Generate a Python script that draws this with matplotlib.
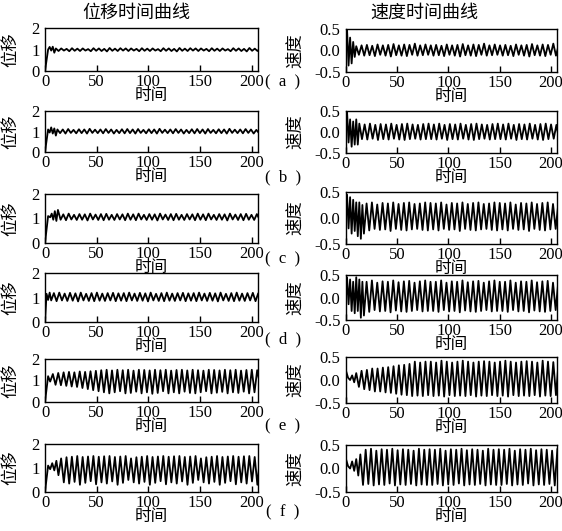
import numpy as np
import matplotlib
matplotlib.use("Agg")
import matplotlib.pyplot as plt
from matplotlib.ticker import FormatStrFormatter

plt.rcParams['font.family'] = ['Liberation Serif', 'Noto Sans CJK SC']
plt.rcParams['axes.unicode_minus'] = True

# ---- data ----
PERIOD = 5.2          # steady oscillation period (time units)
T_END = 206

panel_tags = ['a', 'b', 'c', 'd', 'e', 'f']

# displacement: transient vertices, then steady peak / trough values
disp_trans_t = [
    [0, 3, 4.5, 6, 7.5, 9, 10.5],
    [0, 3, 4.5, 6, 7.5, 9, 10.5, 12],
    [0, 3, 5, 6.5, 8, 9.5, 11, 12.5],
    [0, 1.5, 3, 4.5, 6],
    [0, 3, 5],
    [0, 3, 5, 7, 9, 11, 13],
]
disp_trans_y = [
    [0, 1.0, 1.12, 0.95, 1.13, 0.85, 1.05],
    [0, 1.1, 0.95, 1.2, 0.9, 1.15, 0.8, 1.1],
    [0, 1.1, 1.05, 1.2, 0.95, 1.3, 0.9, 1.35],
    [0, 1.15, 0.9, 1.2, 0.88],
    [0, 1.2, 0.95],
    [0, 1.1, 0.95, 1.2, 0.9, 1.3, 0.7],
]
disp_peaks = [
    [1.05, 1.03, 1.06, 1.04, 1.05, 1.02, 1.06, 1.05, 1.03, 1.07, 1.04, 1.06, 1.05],
    [1.1, 1.12, 1.08, 1.11, 1.1, 1.13, 1.09, 1.1, 1.12, 1.1, 1.08, 1.11, 1.12],
    [1.17, 1.2, 1.15, 1.18, 1.17, 1.2, 1.16, 1.18, 1.19, 1.15, 1.18, 1.17, 1.2],
    [1.18, 1.2, 1.16, 1.19, 1.17, 1.2, 1.15, 1.18, 1.2, 1.16, 1.18, 1.19, 1.17],
    [1.3, 1.35, 1.38, 1.4, 1.38, 1.42, 1.4, 1.43, 1.45, 1.48, 1.5, 1.47, 1.5,
     1.48, 1.5, 1.46, 1.5, 1.49, 1.47, 1.5, 1.48, 1.5, 1.46, 1.49, 1.5, 1.47,
     1.5, 1.48, 1.46, 1.5, 1.49, 1.47, 1.5, 1.48, 1.5, 1.46, 1.49, 1.5, 1.48],
    [1.4, 1.45, 1.47, 1.5, 1.46, 1.48, 1.5, 1.47, 1.49, 1.5, 1.46, 1.48, 1.5],
]
disp_troughs = [
    [0.93, 0.95, 0.92, 0.94, 0.93, 0.95, 0.92, 0.94, 0.93, 0.91, 0.94, 0.93, 0.95],
    [0.92, 0.9, 0.93, 0.91, 0.92, 0.9, 0.93, 0.92, 0.91, 0.93, 0.9, 0.92, 0.91],
    [0.95, 0.93, 0.96, 0.94, 0.95, 0.92, 0.96, 0.94, 0.93, 0.95, 0.94, 0.96, 0.93],
    [0.87, 0.85, 0.88, 0.86, 0.87, 0.84, 0.88, 0.86, 0.85, 0.87, 0.86, 0.88, 0.85],
    [0.85, 0.8, 0.78, 0.75, 0.72, 0.7, 0.65, 0.6, 0.55, 0.5, 0.45, 0.4, 0.45,
     0.5, 0.4, 0.42, 0.48, 0.4, 0.45, 0.38, 0.42, 0.5, 0.4, 0.45, 0.4, 0.48,
     0.42, 0.4, 0.45, 0.5, 0.4, 0.43, 0.47, 0.4, 0.45, 0.42, 0.48, 0.4, 0.45],
    [0.5, 0.4, 0.35, 0.42, 0.3, 0.38, 0.45, 0.32, 0.4, 0.35, 0.44, 0.3, 0.38],
]

# velocity
vel_trans_t = [
    [0, 1, 2.5, 4, 5.5, 7, 8.5, 10],
    [0, 1, 2.5, 4, 5.5, 7, 8.5, 10, 11.5, 13],
    [0, 1, 2.5, 4, 5.5, 7, 8.5, 10, 11.5, 13, 14.5, 16, 17.5],
    [0, 1, 2.5, 4, 5.5, 7, 8.5, 10, 11.5, 13, 14.5, 16, 17.5],
    [0, 2, 4, 6, 8, 10],
    [0, 2, 4, 6, 8, 10, 12, 14],
]
vel_trans_y = [
    [0, 0.5, -0.35, 0.3, -0.3, 0.2, -0.15, 0.1],
    [0, 0.5, -0.25, 0.3, -0.35, 0.25, -0.3, 0.3, -0.3, 0.2],
    [0, 0.45, -0.2, 0.4, -0.3, 0.35, -0.25, 0.3, -0.35, 0.3, -0.4, 0.25, -0.3],
    [0, 0.45, -0.15, 0.4, -0.3, 0.35, -0.35, 0.45, -0.3, 0.4, -0.45, 0.35, -0.4],
    [0.2, 0.05, 0.0, 0.1, -0.05, 0.15],
    [0.2, 0.05, 0.0, 0.15, -0.05, 0.2, -0.15, 0.3],
]
vel_peaks = [
    [0.12, 0.13, 0.11, 0.14, 0.12, 0.13, 0.15, 0.12, 0.14, 0.13, 0.16, 0.12, 0.14],
    [0.18, 0.2, 0.17, 0.19, 0.18, 0.2, 0.17, 0.19, 0.2, 0.18, 0.17, 0.19, 0.2],
    [0.28, 0.3, 0.26, 0.29, 0.28, 0.3, 0.27, 0.29, 0.3, 0.27, 0.28, 0.3, 0.29],
    [0.35, 0.38, 0.33, 0.36, 0.35, 0.38, 0.34, 0.36, 0.37, 0.33, 0.36, 0.38, 0.35],
    [0.2, 0.22, 0.25, 0.25, 0.27, 0.28, 0.3, 0.32, 0.33, 0.35, 0.4, 0.38, 0.4,
     0.4, 0.38, 0.42, 0.4, 0.38, 0.4, 0.42, 0.4, 0.38, 0.4, 0.41, 0.4, 0.38,
     0.4, 0.42, 0.4, 0.38, 0.4, 0.41, 0.4, 0.38, 0.42, 0.4, 0.39, 0.41, 0.4],
    [0.4, 0.42, 0.38, 0.41, 0.4, 0.42, 0.39, 0.41, 0.4, 0.38, 0.42, 0.4, 0.41],
]
vel_troughs = [
    [-0.1, -0.12, -0.11, -0.13, -0.1, -0.12, -0.14, -0.11, -0.12, -0.13, -0.1, -0.12, -0.11],
    [-0.17, -0.18, -0.16, -0.19, -0.17, -0.18, -0.16, -0.18, -0.19, -0.17, -0.16, -0.18, -0.17],
    [-0.22, -0.24, -0.21, -0.23, -0.22, -0.25, -0.21, -0.23, -0.24, -0.22, -0.21, -0.23, -0.24],
    [-0.3, -0.32, -0.28, -0.31, -0.3, -0.33, -0.29, -0.31, -0.32, -0.3, -0.28, -0.31, -0.3],
    [-0.15, -0.2, -0.22, -0.25, -0.25, -0.27, -0.28, -0.3, -0.32, -0.33, -0.35, -0.34, -0.35,
     -0.33, -0.35, -0.34, -0.36, -0.33, -0.35, -0.34, -0.35, -0.33, -0.36, -0.34, -0.35, -0.33,
     -0.35, -0.34, -0.36, -0.33, -0.35, -0.34, -0.35, -0.33, -0.36, -0.34, -0.35, -0.33, -0.35],
    [-0.35, -0.33, -0.36, -0.34, -0.35, -0.32, -0.36, -0.34, -0.35, -0.33, -0.36, -0.34, -0.35],
]

# ---- layout (pixel boxes) ----
W, H = 562, 531
left_x = (45, 258)
right_x = (346, 557)
left_rows = [(28, 71), (111, 152), (194, 243), (273, 322), (359, 402), (444, 492)]
right_rows = [(29, 72), (111, 153), (192, 244), (275, 320), (357, 403), (445, 492)]
tag_y = [82, 177, 259, 339, 426, 512]


def build_zig(tt, ty, peaks, troughs):
    # continue the transient with alternating trough/peak vertices
    t = list(tt)
    y = list(ty)
    going_down = ty[-1] > ty[-2]
    tc = tt[-1]
    k = 0
    while tc <= T_END + PERIOD:
        tc += PERIOD / 2
        t.append(tc)
        if going_down:
            y.append(troughs[k % len(troughs)])
        else:
            y.append(peaks[k % len(peaks)])
            k += 1
        going_down = not going_down
    return np.array(t), np.array(y)


def add_ax(xs, ys):
    return fig.add_axes([xs[0] / W, 1 - ys[1] / H, (xs[1] - xs[0]) / W, (ys[1] - ys[0]) / H])


def style(ax, ylim, yticks, ylab, ylab_x):
    ax.set_xlim(0, T_END)
    ax.set_ylim(*ylim)
    ax.set_xticks([0, 50, 100, 150, 200])
    ax.set_yticks(yticks)
    ax.tick_params(axis='x', direction='in', length=4, width=1, pad=2, labelsize=12)
    ax.tick_params(axis='y', length=0, pad=4, labelsize=12)
    for s in ax.spines.values():
        s.set_linewidth(1.0)
    ax.set_xlabel('时间', fontsize=12, labelpad=-1)
    ax.set_ylabel(ylab, fontsize=12.5)
    ax.yaxis.set_label_coords(ylab_x, 0.5)


fig = plt.figure(figsize=(W / 100, H / 100), dpi=100)

for i in range(6):
    axl = add_ax(left_x, left_rows[i])
    t, y = build_zig(disp_trans_t[i], disp_trans_y[i], disp_peaks[i], disp_troughs[i])
    axl.plot(t, y, color='black', lw=1.3)
    style(axl, (0, 2), [0, 1, 2], '位移', -0.12)

    axr = add_ax(right_x, right_rows[i])
    t, y = build_zig(vel_trans_t[i], vel_trans_y[i], vel_peaks[i], vel_troughs[i])
    axr.plot(t, y, color='black', lw=1.3)
    style(axr, (-0.5, 0.5), [-0.5, 0.0, 0.5], '速度', -0.2)
    axr.yaxis.set_major_formatter(FormatStrFormatter('%.1f'))

    fig.text(283 / W, 1 - tag_y[i] / H, '(  %s  )' % panel_tags[i], ha='center', va='center', fontsize=12)

fig.text(136 / W, 1 - 13 / H, '位移时间曲线', ha='center', va='center', fontsize=13)
fig.text(424 / W, 1 - 13 / H, '速度时间曲线', ha='center', va='center', fontsize=13)

fig.savefig('out.png', dpi=100)
